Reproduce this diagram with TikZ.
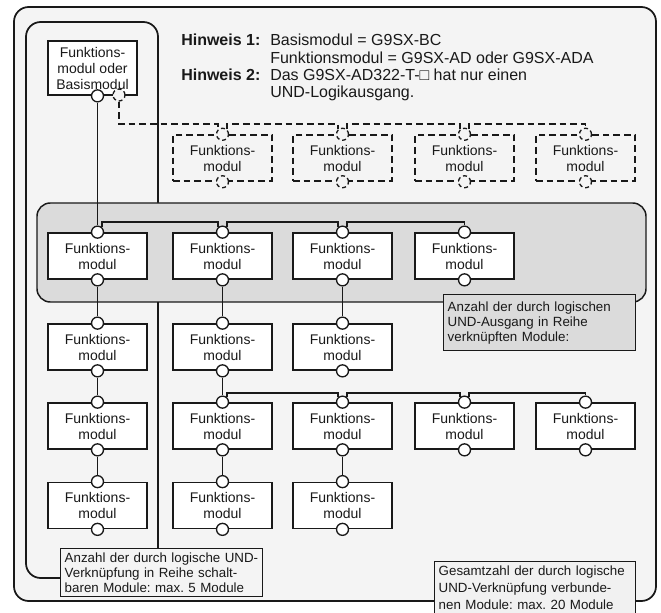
\documentclass[tikz,border=0pt]{standalone}
\usepackage{fontspec}
\setmainfont{Liberation Sans}
\definecolor{bg}{gray}{0.955}
\definecolor{band}{gray}{0.86}

\begin{document}
\frenchspacing
\begin{tikzpicture}[x=0.75pt, y=-0.75pt, black!90,
    modul/.style={draw, fill=white, line width=1.3pt, minimum width=74.25pt, minimum height=34.5pt, inner sep=1pt, align=center, font=\fontsize{10.5}{12}\selectfont},
    dmodul/.style={modul, fill=bg, line width=1.1pt, dash pattern=on 5pt off 3pt},
    plug/.style={circle, draw, fill=white, line width=1pt, minimum size=9pt, inner sep=0pt},
    dplug/.style={plug, fill=bg, dash pattern=on 3pt off 2.2pt},
    conn/.style={line width=1pt},
    infobox/.style={draw, line width=1.1pt, anchor=north west, inner xsep=3pt, inner ysep=2pt, align=left, font=\fontsize{10}{11.25}\selectfont}]
    \useasboundingbox (0,0) rectangle (661,613);
    % frames
    \draw[line width=1.3pt, fill=bg, rounded corners=11pt] (14,7) rectangle (656,601);
    \draw[line width=1.3pt, rounded corners=11pt] (26,22) rectangle (158,578);
    \draw[line width=1.1pt, fill=band, rounded corners=10pt] (37,203) rectangle (646,302);
    \coordinate (dbus) at (0,124);
    \coordinate (bus1) at (0,222);
    \coordinate (bus3) at (0,393);

    % notes
    \node[anchor=base west, inner sep=0pt, font=\fontsize{12}{13}\selectfont] (hint) at (181,46)
      {\begin{tabular}[t]{@{}p{66.75pt}@{}l@{}}
        \textbf{Hinweis 1:} & Basismodul = G9SX-BC\\
        & Funktionsmodul = G9SX-AD oder G9SX-ADA\\
        \textbf{Hinweis 2:} & Das G9SX-AD322-T-□ hat nur einen\\
        & UND-Logikausgang.
      \end{tabular}};

    % base module
    \node[modul, minimum width=66.75pt, minimum height=40.5pt] (b0) at (92.5,68) {Funktions-\\modul oder\\Basismodul};
    \node[plug] (b0s) at (b0.south -| 97.5,0) {};
    \node[dplug] (b0d) at (119,95) {};

    % optional modules (dashed)
    \node[dmodul] (d1) at (222.5,158) {Funktions-\\modul};
    \node[dplug] (d1n) at (d1.north) {}; \node[dplug] (d1s) at (d1.south) {};
    \node[dmodul] (d2) at (342.5,158) {Funktions-\\modul};
    \node[dplug] (d2n) at (d2.north) {}; \node[dplug] (d2s) at (d2.south) {};
    \node[dmodul] (d3) at (464.5,158) {Funktions-\\modul};
    \node[dplug] (d3n) at (d3.north) {}; \node[dplug] (d3s) at (d3.south) {};
    \node[dmodul] (d4) at (585.5,158) {Funktions-\\modul};
    \node[dplug] (d4n) at (d4.north) {}; \node[dplug] (d4s) at (d4.south) {};

    % row 1 (grey band)
    \node[modul] (m11) at (97.5,256) {Funktions-\\modul};
    \node[plug] (m11n) at (m11.north) {}; \node[plug] (m11s) at (m11.south) {};
    \node[modul] (m12) at (222.5,256) {Funktions-\\modul};
    \node[plug] (m12n) at (m12.north) {}; \node[plug] (m12s) at (m12.south) {};
    \node[modul] (m13) at (342.5,256) {Funktions-\\modul};
    \node[plug] (m13n) at (m13.north) {}; \node[plug] (m13s) at (m13.south) {};
    \node[modul] (m14) at (464.5,256) {Funktions-\\modul};
    \node[plug] (m14n) at (m14.north) {}; \node[plug] (m14s) at (m14.south) {};

    % row 2
    \node[modul] (m21) at (97.5,347) {Funktions-\\modul};
    \node[plug] (m21n) at (m21.north) {}; \node[plug] (m21s) at (m21.south) {};
    \node[modul] (m22) at (222.5,347) {Funktions-\\modul};
    \node[plug] (m22n) at (m22.north) {}; \node[plug] (m22s) at (m22.south) {};
    \node[modul] (m23) at (342.5,347) {Funktions-\\modul};
    \node[plug] (m23n) at (m23.north) {}; \node[plug] (m23s) at (m23.south) {};

    % row 3
    \node[modul] (m31) at (97.5,426) {Funktions-\\modul};
    \node[plug] (m31n) at (m31.north) {}; \node[plug] (m31s) at (m31.south) {};
    \node[modul] (m32) at (222.5,426) {Funktions-\\modul};
    \node[plug] (m32n) at (m32.north) {}; \node[plug] (m32s) at (m32.south) {};
    \node[modul] (m33) at (342.5,426) {Funktions-\\modul};
    \node[plug] (m33n) at (m33.north) {}; \node[plug] (m33s) at (m33.south) {};
    \node[modul] (m34) at (464.5,426) {Funktions-\\modul};
    \node[plug] (m34n) at (m34.north) {}; \node[plug] (m34s) at (m34.south) {};
    \node[modul] (m35) at (585.5,426) {Funktions-\\modul};
    \node[plug] (m35n) at (m35.north) {}; \node[plug] (m35s) at (m35.south) {};

    % row 4
    \node[modul] (m41) at (97.5,505.5) {Funktions-\\modul};
    \node[plug] (m41n) at (m41.north) {}; \node[plug] (m41s) at (m41.south) {};
    \node[modul] (m42) at (222.5,505.5) {Funktions-\\modul};
    \node[plug] (m42n) at (m42.north) {}; \node[plug] (m42s) at (m42.south) {};
    \node[modul] (m43) at (342.5,505.5) {Funktions-\\modul};
    \node[plug] (m43n) at (m43.north) {}; \node[plug] (m43s) at (m43.south) {};

    % labels
    \node[infobox, fill=band, text width=138pt, minimum height=42pt] (n1) at (443,294)
      {Anzahl der durch logischen\\UND-Ausgang in Reihe\\verknüpften Module:};
    \node[infobox, fill=bg, text width=145.5pt, minimum height=36pt] (n2) at (60,548)
      {Anzahl der durch logische UND-\\Verknüpfung in Reihe schalt-\\baren Module: max. 5 Module};
    \node[infobox, fill=gray!11, text width=144.75pt, inner ysep=3pt, font=\fontsize{10}{12.75}\selectfont] (n3) at (434,561)
      {Gesamtzahl der durch logische\\UND-Verknüpfung verbunde-\\nen Module: max. 20 Module};

    % connections
    \draw[conn] (b0s) -- (m11n);
    \draw[conn] (m11n.48) |- (bus1 -| m12n.132) -- (m12n.132);
    \draw[conn] (m12n.48) |- (bus1 -| m13n.132) -- (m13n.132);
    \draw[conn] (m13n.48) |- (bus1 -| m14n.north) -- (m14n.north);
    \draw[conn] (m11s) -- (m21n) (m21s) -- (m31n) (m31s) -- (m41n);
    \draw[conn] (m12s) -- (m22n) (m22s) -- (m32n) (m32s) -- (m42n);
    \draw[conn] (m13s) -- (m23n) (m33s) -- (m43n);
    \draw[conn] (m32n.48) |- (bus3 -| m33n.132) -- (m33n.132);
    \draw[conn] (m33n.48) |- (bus3 -| m34n.132) -- (m34n.132);
    \draw[conn] (m34n.48) |- (bus3 -| m35n.north) -- (m35n.north);
    \draw[conn, dash pattern=on 5pt off 3pt] (b0d) |- (dbus -| d1n.132) -- (d1n.132);
    \draw[conn, dash pattern=on 5pt off 3pt] (d1n.48) |- (dbus -| d2n.132) -- (d2n.132);
    \draw[conn, dash pattern=on 5pt off 3pt] (d2n.48) |- (dbus -| d3n.132) -- (d3n.132);
    \draw[conn, dash pattern=on 5pt off 3pt] (d3n.48) |- (dbus -| d4n.north) -- (d4n.north);
\end{tikzpicture}
\end{document}
